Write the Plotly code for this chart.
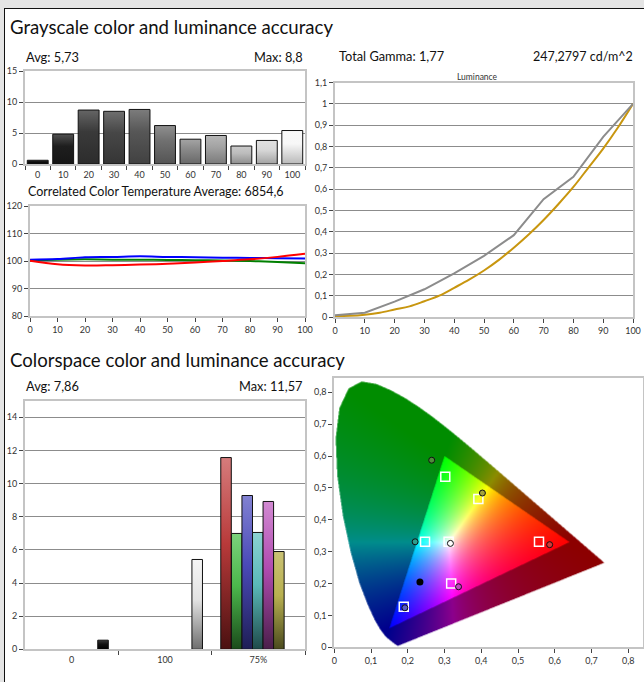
import base64
import struct
import zlib

import numpy as np
import plotly.graph_objects as go

W, H = 644, 682
FONT = "Lato"

# ---------------- data ----------------
gray_levels = ["0", "10", "20", "30", "40", "50", "60", "70", "80", "90", "100"]
gray_de = [0.6, 4.8, 8.7, 8.5, 8.8, 6.2, 4.0, 4.6, 2.9, 3.8, 5.4]

cct_x = [0, 10, 20, 30, 40, 50, 60, 70, 80, 90, 100]
cct_red = [100.1, 98.8, 98.4, 98.5, 98.7, 99.0, 99.5, 100.0, 100.6, 101.5, 102.6]
cct_green = [100.2, 100.5, 100.6, 100.5, 100.5, 100.4, 100.3, 100.2, 100.0, 99.6, 99.2]
cct_blue = [100.5, 100.7, 101.4, 101.5, 101.7, 101.5, 101.4, 101.2, 101.1, 101.0, 100.9]

lum_x = [0, 10, 20, 30, 40, 50, 60, 70, 80, 90, 100]
lum_measured = [0.008, 0.02, 0.072, 0.13, 0.205, 0.287, 0.384, 0.553, 0.658, 0.845, 1.0]
lum_ref_x = [0, 5, 10, 15, 20, 25, 30, 35, 40, 45, 50, 55, 60, 65, 70, 75, 80, 85, 90, 95, 100]
lum_ref = [0.005, 0.006, 0.011, 0.02, 0.035, 0.05, 0.074, 0.1, 0.137, 0.175, 0.218,
           0.268, 0.325, 0.387, 0.455, 0.53, 0.61, 0.7, 0.79, 0.89, 1.0]

cs_groups = ["0", "100", "75%"]
cs_names = ["Black", "White", "Red", "Green", "Blue", "Cyan", "Magenta", "Yellow"]
cs_group_idx = [0, 1, 2, 2, 2, 2, 2, 2]
cs_de = [0.55, 5.42, 11.57, 6.99, 9.28, 7.05, 8.92, 5.90]

# CIE 1931 spectral locus, 380-700 nm in 5 nm steps
locus_x = [0.1741, 0.1740, 0.1738, 0.1736, 0.1733, 0.1730, 0.1726, 0.1721, 0.1714, 0.1703,
           0.1689, 0.1669, 0.1644, 0.1611, 0.1566, 0.1510, 0.1440, 0.1355, 0.1241, 0.1096,
           0.0913, 0.0687, 0.0454, 0.0235, 0.0082, 0.0039, 0.0139, 0.0389, 0.0743, 0.1142,
           0.1547, 0.1929, 0.2296, 0.2658, 0.3016, 0.3373, 0.3731, 0.4087, 0.4441, 0.4788,
           0.5125, 0.5448, 0.5752, 0.6029, 0.6270, 0.6482, 0.6658, 0.6801, 0.6915, 0.7006,
           0.7079, 0.7140, 0.7190, 0.7230, 0.7260, 0.7283, 0.7300, 0.7311, 0.7320, 0.7327,
           0.7334, 0.7340, 0.7344, 0.7346, 0.7347]
locus_y = [0.0050, 0.0050, 0.0049, 0.0049, 0.0048, 0.0048, 0.0048, 0.0048, 0.0051, 0.0058,
           0.0069, 0.0086, 0.0109, 0.0138, 0.0177, 0.0227, 0.0297, 0.0399, 0.0578, 0.0868,
           0.1327, 0.2007, 0.2950, 0.4127, 0.5384, 0.6548, 0.7502, 0.8120, 0.8338, 0.8262,
           0.8059, 0.7816, 0.7543, 0.7243, 0.6923, 0.6589, 0.6245, 0.5896, 0.5547, 0.5202,
           0.4866, 0.4544, 0.4242, 0.3965, 0.3725, 0.3514, 0.3340, 0.3197, 0.3083, 0.2993,
           0.2920, 0.2859, 0.2809, 0.2770, 0.2740, 0.2717, 0.2700, 0.2689, 0.2680, 0.2673,
           0.2666, 0.2660, 0.2656, 0.2654, 0.2653]

gamut_x = [0.64, 0.30, 0.15]
gamut_y = [0.33, 0.60, 0.06]
white_xy = [0.3127, 0.3290]

# colour targets (squares) and measurements (circles): G, Y, C, W, R, M, B
target_x = [0.302, 0.392, 0.247, 0.311, 0.557, 0.318, 0.189]
target_y = [0.535, 0.465, 0.331, 0.331, 0.331, 0.200, 0.127]
meas_x = [0.265, 0.403, 0.220, 0.316, 0.586, 0.338, 0.192]
meas_y = [0.587, 0.484, 0.331, 0.326, 0.322, 0.190, 0.124]
black_pt_x = [0.233]
black_pt_y = [0.205]

# ---------------- styles ----------------
gray_fill = ["#0d0d0d", "#1e1e1e", "#3a3a3a", "#474747", "#575757", "#707070",
             "#8a8a8a", "#a3a3a3", "#bcbcbc", "#d8d8d8", "#f7f7f7"]
cs_fill = {
    "Black": ("#000000", "#111111", "#383838"),
    "White": ("#6e6e6e", "#e2e2e2", "#f5f5f5"),
    "Red": ("#4a1010", "#b83a3a", "#d67c7c"),
    "Green": ("#1a4a1a", "#4cb84c", "#7cd27c"),
    "Blue": ("#1e1e55", "#4a4ab8", "#8282d2"),
    "Cyan": ("#1e4a4a", "#5ab8b8", "#8cd2d2"),
    "Magenta": ("#4a1e4a", "#b04cb0", "#d28ad2"),
    "Yellow": ("#4a4a1e", "#b8b050", "#cac274"),
}
# bar centre inside its group (group width = 1) and bar width
cs_offset = [0.836, 0.845, 0.154, 0.268, 0.381, 0.494, 0.607, 0.720]
cs_width = 0.113

FRAME = "#c4c4c4"
GRID = "#8c8c8c"
TICKC = "#444444"


def shade(hex_color, f):
    h = hex_color.lstrip("#")
    r, g, b = (int(h[i:i + 2], 16) for i in (0, 2, 4))
    if f >= 0:
        r, g, b = (c + (255 - c) * f for c in (r, g, b))
    else:
        r, g, b = (c * (1 + f) for c in (r, g, b))
    return "#%02x%02x%02x" % (int(round(r)), int(round(g)), int(round(b)))


def xdom(a, b):
    return [a / W, b / W]


def ydom(top, bottom):
    return [1 - bottom / H, 1 - top / H]


fig = go.Figure()


def bar_poly(xc, w, v, xa, ya, scale):
    fig.add_trace(go.Scatter(
        x=[xc - w / 2, xc - w / 2, xc + w / 2, xc + w / 2, xc - w / 2],
        y=[0, v, v, 0, 0],
        mode="lines", fill="toself",
        fillgradient=dict(type="vertical", colorscale=scale),
        line=dict(color="#111111", width=1),
        xaxis=xa, yaxis=ya, hoverinfo="skip", showlegend=False,
    ))


# grayscale dE bars
for i, v in enumerate(gray_de):
    base = gray_fill[i]
    bar_poly(i, 0.82, v, "x", "y",
             [[0, shade(base, -0.25)], [0.6, base], [1, shade(base, 0.22)]])

# CCT RGB balance
for vals, col in ((cct_green, "#008000"), (cct_blue, "#0000ff"), (cct_red, "#ff0000")):
    fig.add_trace(go.Scatter(x=cct_x, y=vals, mode="lines",
                             line=dict(color=col, width=2, shape="spline"),
                             xaxis="x2", yaxis="y2", hoverinfo="skip", showlegend=False))

# luminance
fig.add_trace(go.Scatter(x=lum_ref_x, y=lum_ref, mode="lines",
                         line=dict(color="#c8960f", width=2, shape="spline"),
                         xaxis="x3", yaxis="y3", hoverinfo="skip", showlegend=False))
fig.add_trace(go.Scatter(x=lum_x, y=lum_measured, mode="lines",
                         line=dict(color="#8c8c8c", width=2),
                         xaxis="x3", yaxis="y3", hoverinfo="skip", showlegend=False))

# colorspace dE bars
for name, g, off, v in zip(cs_names, cs_group_idx, cs_offset, cs_de):
    dark, base, light = cs_fill[name]
    bar_poly(g + off, cs_width, v, "x4", "y4",
             [[0, dark], [0.55, base], [1, light]])

# ---------- CIE 1931 chromaticity background ----------
XMAX, YMAX = 0.8408, 0.8439


def rgb_to_xyz(px, py, w):
    P = np.array([[x / y, 1.0, (1 - x - y) / y] for x, y in zip(px, py)]).T
    wv = np.array([w[0] / w[1], 1.0, (1 - w[0] - w[1]) / w[1]])
    return P * np.linalg.solve(P, wv)


def inside_polygon(px, py, vx, vy):
    inside = np.zeros(px.shape, dtype=bool)
    n = len(vx)
    j = n - 1
    for i in range(n):
        xi, yi, xj, yj = vx[i], vy[i], vx[j], vy[j]
        if yi != yj:
            cross = ((yi > py) != (yj > py)) & (px < (xj - xi) * (py - yi) / (yj - yi) + xi)
            inside ^= cross
        j = i
    return inside


def png_uri(rgba):
    h, w, _ = rgba.shape
    raw = b"".join(b"\x00" + rgba[r].tobytes() for r in range(h))

    def chunk(tag, data):
        return (struct.pack(">I", len(data)) + tag + data +
                struct.pack(">I", zlib.crc32(tag + data) & 0xFFFFFFFF))

    png = (b"\x89PNG\r\n\x1a\n" +
           chunk(b"IHDR", struct.pack(">IIBBBBB", w, h, 8, 6, 0, 0, 0)) +
           chunk(b"IDAT", zlib.compress(raw, 9)) + chunk(b"IEND", b""))
    return "data:image/png;base64," + base64.b64encode(png).decode()


nx, ny = 2 * 309, 2 * 269
gx = (np.arange(nx) + 0.5) * XMAX / nx
gy = YMAX - (np.arange(ny) + 0.5) * YMAX / ny
PX, PY = np.meshgrid(gx, gy)
PYc = np.maximum(PY, 1e-4)
XYZ = np.stack([PX / PYc, np.ones_like(PX), (1 - PX - PY) / PYc])
M = np.linalg.inv(rgb_to_xyz(gamut_x, gamut_y, white_xy))
rgb = np.tensordot(M, XYZ, axes=1)
in_gamut = (rgb >= 0).all(axis=0)
rgb = np.clip(rgb, 0, None)
rgb = rgb / np.maximum(rgb.max(axis=0, keepdims=True), 1e-9)
rgb = np.where(in_gamut[None], rgb, rgb * 0.55)
alpha = inside_polygon(PX, PY, locus_x, locus_y)
img = np.zeros((ny, nx, 4), dtype=np.uint8)
img[..., :3] = np.round(np.moveaxis(rgb, 0, -1) * 255).astype(np.uint8)
img[..., 3] = np.where(alpha, 255, 0).astype(np.uint8)

fig.add_layout_image(dict(
    source=png_uri(img), xref="x5", yref="y5", x=0, y=YMAX,
    sizex=XMAX, sizey=YMAX, sizing="stretch",
    xanchor="left", yanchor="top", layer="below",
))

fig.add_trace(go.Scatter(x=target_x, y=target_y, mode="markers",
                         marker=dict(symbol="square-open", size=9,
                                     line=dict(color="white", width=1.5), color="white"),
                         xaxis="x5", yaxis="y5", hoverinfo="skip", showlegend=False))
meas_fill = ["#4f8c3c", "#a3a33c", "#2f9c8c", "#ffffff", "#d03a3a", "#c444c4", "#5a5ac8"]
fig.add_trace(go.Scatter(x=meas_x, y=meas_y, mode="markers",
                         marker=dict(symbol="circle", size=6, color=meas_fill,
                                     line=dict(color="#111111", width=1)),
                         xaxis="x5", yaxis="y5", hoverinfo="skip", showlegend=False))
fig.add_trace(go.Scatter(x=black_pt_x, y=black_pt_y, mode="markers",
                         marker=dict(symbol="circle", size=7, color="#000000"),
                         xaxis="x5", yaxis="y5", hoverinfo="skip", showlegend=False))

# ---------------- axes ----------------
tickfont = dict(family=FONT, size=9, color="#333333")
common = dict(showline=True, linecolor=FRAME, linewidth=2, mirror=True,
              ticks="outside", ticklen=4, tickwidth=1, tickcolor=TICKC,
              tickfont=tickfont, zeroline=False, fixedrange=True, automargin=False)

fig.update_layout(
    xaxis=dict(common, domain=xdom(25, 305), range=[-0.5, 10.5], anchor="y",
               tickmode="array", tickvals=list(range(11)), ticktext=gray_levels,
               ticklen=1, tickcolor="rgba(0,0,0,0)", showgrid=False,
               minor=dict(tickmode="array", tickvals=[i + 0.5 for i in range(-1, 11)],
                          ticks="outside", ticklen=4, tickcolor=TICKC, showgrid=False)),
    yaxis=dict(common, domain=ydom(71, 164), range=[0, 15], anchor="x",
               tickvals=[0, 5, 10, 15], showgrid=True, gridcolor=GRID, gridwidth=1),
    xaxis2=dict(common, domain=xdom(30, 305), range=[0, 100], anchor="y2",
                dtick=10, showgrid=False),
    yaxis2=dict(common, domain=ydom(206, 316), range=[80, 120], anchor="x2",
                dtick=10, showgrid=True, gridcolor=GRID, gridwidth=1),
    xaxis3=dict(common, domain=xdom(335, 633), range=[0, 100], anchor="y3",
                dtick=10, showgrid=False),
    yaxis3=dict(common, domain=ydom(82.5, 317), range=[0, 1.1], anchor="x3",
                dtick=0.1, showgrid=True, gridcolor=GRID, gridwidth=1),
    xaxis4=dict(common, domain=xdom(25, 305), range=[0, 3], anchor="y4",
                tickmode="array", tickvals=[0.5, 1.5, 2.5], ticktext=cs_groups,
                ticklen=1, tickcolor="rgba(0,0,0,0)", showgrid=False,
                minor=dict(tickmode="array", tickvals=[1, 2, 3], ticks="outside",
                           ticklen=4, tickcolor=TICKC, showgrid=False)),
    yaxis4=dict(common, domain=ydom(400.7, 649.3), range=[0, 15], anchor="x4",
                tickvals=list(range(0, 15, 2)), showgrid=True, gridcolor=GRID, gridwidth=1),
    xaxis5=dict(common, domain=xdom(334.3, 643.3), range=[0, XMAX], anchor="y5",
                dtick=0.1, tick0=0, showgrid=False),
    yaxis5=dict(common, domain=ydom(378.3, 647.3), range=[0, YMAX], anchor="x5",
                dtick=0.1, tick0=0, showgrid=False),
)

# ---------------- texts ----------------
def label(text, x, y, size, anchor="left", color="#111111"):
    fig.add_annotation(text=text, x=x / W, y=1 - y / H, xref="paper", yref="paper",
                       xanchor=anchor, yanchor="middle", showarrow=False,
                       font=dict(family=FONT, size=size, color=color))


label("Grayscale color and luminance accuracy", 8, 27, 18.6)
label("Avg: 5,73", 24, 57, 12.8)
label("Max: 8,8", 305, 57, 12.8, "right")
label("Correlated Color Temperature Average: 6854,6", 156, 192, 12.5, "center")
label("Total Gamma: 1,77", 337, 56, 12.8)
label("247,2797 cd/m^2", 635, 56, 12.5, "right")
label("Luminance", 477, 77, 8.5, "center", "#333333")
label("Colorspace color and luminance accuracy", 8, 360, 18.6)
label("Avg: 7,86", 24, 386, 12.8)
label("Max: 11,57", 305, 386, 12.8, "right")

# ---------------- panel frame ----------------
BG = "#e4e4e4"
fig.update_layout(shapes=[
    dict(type="rect", xref="paper", yref="paper", x0=0, x1=4 / W, y0=0, y1=1,
         fillcolor=BG, line_width=0, layer="below"),
    dict(type="rect", xref="paper", yref="paper", x0=0, x1=1, y0=1 - 8 / H, y1=1,
         fillcolor=BG, line_width=0, layer="below"),
    dict(type="line", xref="paper", yref="paper", x0=4.5 / W, x1=4.5 / W,
         y0=0, y1=1 - 8 / H, line=dict(color="#111111", width=1)),
    dict(type="line", xref="paper", yref="paper", x0=4 / W, x1=1,
         y0=1 - 8.5 / H, y1=1 - 8.5 / H, line=dict(color="#111111", width=1)),
])

fig.update_layout(
    width=W, height=H, margin=dict(l=0, r=0, t=0, b=0, pad=0, autoexpand=False),
    paper_bgcolor="white", plot_bgcolor="rgba(0,0,0,0)",
    showlegend=False, hovermode=False, separators=", ",
    font=dict(family=FONT),
)

fig.write_html("out.html", config={"displayModeBar": False})
